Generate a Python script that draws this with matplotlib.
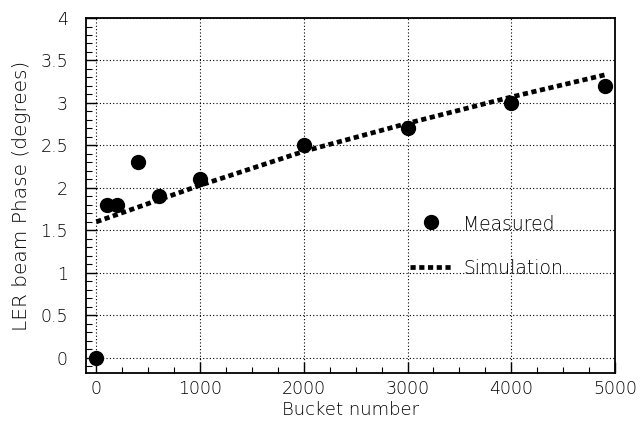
import matplotlib
matplotlib.use("Agg")
import matplotlib.pyplot as plt
from matplotlib.ticker import MultipleLocator

# Measured phase vs bucket number
bucket_meas = [0, 100, 200, 400, 600, 1000, 2000, 3000, 4000, 4900]
phase_meas = [0.0, 1.8, 1.8, 2.3, 1.9, 2.1, 2.5, 2.7, 3.0, 3.2]

# Simulation curve
bucket_sim = [0, 1000, 2000, 3000, 4000, 4900]
phase_sim = [1.6, 2.03, 2.43, 2.76, 3.07, 3.33]

plt.rcParams['font.family'] = ['DejaVu Sans']
plt.rcParams['font.size'] = 11.5
plt.rcParams['font.weight'] = 'light'
plt.rcParams['axes.labelweight'] = 'light'

fig = plt.figure(figsize=(6.44, 4.24), dpi=100)
ax = fig.add_axes([0.1335, 0.1203, 0.8215, 0.8372])

ax.plot(bucket_sim, phase_sim, color='black', lw=3.4, linestyle=(0, (1.1, 0.75)), zorder=3)
ax.plot(bucket_meas, phase_meas, 'o', color='black', ms=10, zorder=4)

ax.set_xlim(-100, 5000)
ax.set_ylim(-0.18, 4)
ax.xaxis.set_major_locator(MultipleLocator(1000))
ax.xaxis.set_minor_locator(MultipleLocator(250))
ax.yaxis.set_major_locator(MultipleLocator(0.5))
ax.yaxis.set_minor_locator(MultipleLocator(0.1))
ax.yaxis.set_major_formatter(matplotlib.ticker.FuncFormatter(lambda v, p: f"{v:g}"))
ax.tick_params(which='both', direction='in', top=False, right=False, color='black')
ax.tick_params(which='major', length=8, width=1, labelsize=12.5)
ax.tick_params(axis='x', which='major', pad=5)
ax.tick_params(axis='y', which='major', pad=13)
ax.tick_params(which='minor', length=4, width=0.8)
ax.grid(True, which='major', linestyle=(0, (1, 2)), color='black', lw=0.8)
for s in ax.spines.values():
    s.set_linewidth(1.3)

ax.set_xlabel('Bucket number', labelpad=2, fontsize=13)
ax.set_ylabel('LER beam Phase (degrees)', labelpad=7, fontsize=14.5)

# legend drawn by hand inside the axes
ax.plot([0.652], [0.425], 'o', color='black', ms=10, transform=ax.transAxes, clip_on=False)
ax.text(0.713, 0.418, 'Measured', transform=ax.transAxes, va='center', ha='left', fontsize=13.5)
ax.plot([0.612, 0.692], [0.3, 0.3], color='black', lw=3.4, linestyle=(0, (1.1, 0.75)),
        transform=ax.transAxes)
ax.text(0.713, 0.295, 'Simulation', transform=ax.transAxes, va='center', ha='left', fontsize=13.5)

fig.savefig('out.png', dpi=100)
